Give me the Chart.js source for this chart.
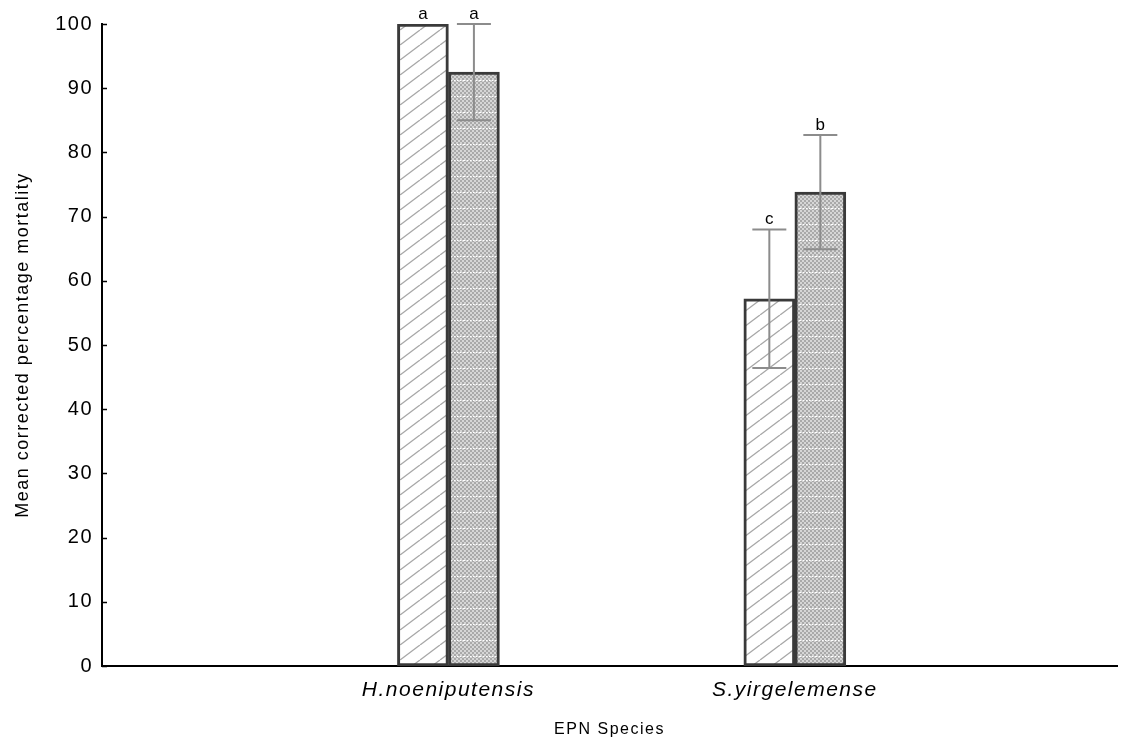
<!DOCTYPE html>
<html>
<head>
<meta charset="utf-8">
<title>Mean corrected percentage mortality by EPN species</title>
<script src="https://cdn.jsdelivr.net/npm/chart.js@4.4.1/dist/chart.umd.min.js"></script>
<style>
  html, body { margin: 0; padding: 0; background: #ffffff; }
  #wrap { width: 1133px; height: 742px; }
</style>
</head>
<body>
<div id="wrap"><canvas id="chart" width="1133" height="742"></canvas></div>
<script>
// EPN species on the x axis (placed at positions 1 and 2 of a linear scale)
const species = ['H.noeniputensis', 'S.yirgelemense'];
const speciesPos = [1, 2];

// Mean corrected percentage mortality for the two treatments
const hatchedMeans = [100, 57.2];
const dottedMeans = [92.5, 73.8];

// Error half-widths
const hatchedErrors = [0, 10.8];
const dottedErrors = [7.5, 8.9];

// Significance letters
const hatchedLetters = ['a', 'c'];
const dottedLetters = ['a', 'b'];

// Y axis ticks
const yTicks = [0, 10, 20, 30, 40, 50, 60, 70, 80, 90, 100];

const FONT = "'Liberation Sans', Arial, sans-serif";

// Diagonal hatch fill
function makeHatch() {
  const c = document.createElement('canvas');
  c.width = 20; c.height = 15;
  const g = c.getContext('2d');
  g.fillStyle = '#ffffff';
  g.fillRect(0, 0, 20, 15);
  g.strokeStyle = '#a6a6a6';
  g.lineWidth = 1.3;
  for (const dx of [-20, 0, 20]) {
    g.beginPath();
    g.moveTo(dx, 15);
    g.lineTo(dx + 20, 0);
    g.stroke();
  }
  return g.createPattern(c, 'repeat');
}

// Fine checkered grey fill with dotted white rows
function makeDots() {
  const c = document.createElement('canvas');
  c.width = 16; c.height = 16;
  const g = c.getContext('2d');
  for (let y = 0; y < 16; y += 2) {
    for (let x = 0; x < 16; x += 2) {
      g.fillStyle = ((x + y) / 2) % 2 === 0 ? '#a9a9a9' : '#d6d6d6';
      g.fillRect(x, y, 2, 2);
    }
  }
  g.fillStyle = '#ffffff';
  for (let x = 0; x < 16; x += 3) g.fillRect(x, 0, 1.5, 1);
  return g.createPattern(c, 'repeat');
}

const toPoints = (vals) => vals.map((v, i) => ({ x: speciesPos[i], y: v }));

// Slightly open tracking for all chart text
const trackingPlugin = {
  id: 'tracking',
  beforeDraw(chart) {
    chart.ctx.letterSpacing = '1.5px';
  }
};

// Error bars and letters, drawn on top of the bars
const errorBarPlugin = {
  id: 'errorBars',
  afterDatasetsDraw(chart) {
    const ctx = chart.ctx;
    const yScale = chart.scales.y;
    chart.data.datasets.forEach((ds, di) => {
      const meta = chart.getDatasetMeta(di);
      meta.data.forEach((bar, i) => {
        const mean = ds.data[i].y;
        const err = ds.errors[i];
        const x = bar.x;
        ctx.save();
        if (err > 0) {
          const yTop = yScale.getPixelForValue(mean + err);
          const yBot = yScale.getPixelForValue(mean - err);
          ctx.strokeStyle = '#8c8c8c';
          ctx.lineWidth = 2;
          ctx.beginPath();
          ctx.moveTo(x, yTop); ctx.lineTo(x, yBot);
          ctx.moveTo(x - 17, yTop); ctx.lineTo(x + 17, yTop);
          ctx.moveTo(x - 17, yBot); ctx.lineTo(x + 17, yBot);
          ctx.stroke();
        }
        const topVal = Math.min(100, mean + err);
        const ly = yScale.getPixelForValue(Math.max(mean, topVal));
        ctx.fillStyle = '#000000';
        ctx.font = '17px ' + FONT;
        ctx.letterSpacing = '0px';
        ctx.textAlign = 'center';
        ctx.textBaseline = 'alphabetic';
        ctx.fillText(ds.letters[i], x, ly - 5);
        ctx.restore();
      });
    });
  }
};

// Short inward tick marks on the y axis
const innerTicksPlugin = {
  id: 'innerTicks',
  afterDraw(chart) {
    const ctx = chart.ctx;
    const yScale = chart.scales.y;
    const x0 = chart.chartArea.left;
    ctx.save();
    ctx.strokeStyle = '#000000';
    ctx.lineWidth = 1.5;
    yScale.ticks.forEach((t, i) => {
      const y = Math.round(yScale.getPixelForTick(i)) + 0.5;
      ctx.beginPath();
      ctx.moveTo(x0, y);
      ctx.lineTo(x0 + 5, y);
      ctx.stroke();
    });
    ctx.restore();
  }
};

const chart = new Chart(document.getElementById('chart'), {
  type: 'bar',
  data: {
    datasets: [
      {
        label: 'Treatment 1',
        data: toPoints(hatchedMeans),
        errors: hatchedErrors,
        letters: hatchedLetters,
        backgroundColor: makeHatch(),
        borderColor: '#3a3a3a',
        borderWidth: 3,
        borderSkipped: false,
        barThickness: 51
      },
      {
        label: 'Treatment 2',
        data: toPoints(dottedMeans),
        errors: dottedErrors,
        letters: dottedLetters,
        backgroundColor: makeDots(),
        borderColor: '#3a3a3a',
        borderWidth: 3,
        borderSkipped: false,
        barThickness: 51
      }
    ]
  },
  options: {
    responsive: false,
    animation: false,
    devicePixelRatio: 1,
    layout: { padding: { top: 24, right: 16, left: 0, bottom: 0 } },
    plugins: {
      legend: { display: false },
      tooltip: { enabled: false }
    },
    scales: {
      x: {
        type: 'linear',
        min: 0,
        max: 2.93,
        offset: false,
        grid: { display: false, drawTicks: false, offset: false },
        border: { display: true, color: '#000000', width: 2 },
        afterBuildTicks(scale) {
          scale.ticks = speciesPos.map(v => ({ value: v }));
        },
        afterFit(scale) { scale.height = 76; },
        ticks: {
          autoSkip: false,
          maxRotation: 0,
          padding: 12,
          color: '#000000',
          font: { family: FONT, size: 21, style: 'italic' },
          callback: (v) => species[speciesPos.indexOf(v)]
        },
        title: {
          display: true,
          text: 'EPN Species',
          color: '#000000',
          font: { family: FONT, size: 16 },
          padding: { top: 0, bottom: 3 }
        }
      },
      y: {
        min: 0,
        max: 100,
        grid: { display: false, drawTicks: false },
        border: { display: true, color: '#000000', width: 2 },
        afterBuildTicks(scale) {
          scale.ticks = yTicks.map(v => ({ value: v }));
        },
        afterFit(scale) { scale.width = 102; },
        ticks: {
          padding: 9,
          color: '#000000',
          font: { family: FONT, size: 20 }
        },
        title: {
          display: true,
          text: 'Mean corrected percentage mortality',
          color: '#000000',
          font: { family: FONT, size: 18 },
          padding: { top: 12, bottom: 0 }
        }
      }
    }
  },
  plugins: [trackingPlugin, errorBarPlugin, innerTicksPlugin]
});
</script>
</body>
</html>
